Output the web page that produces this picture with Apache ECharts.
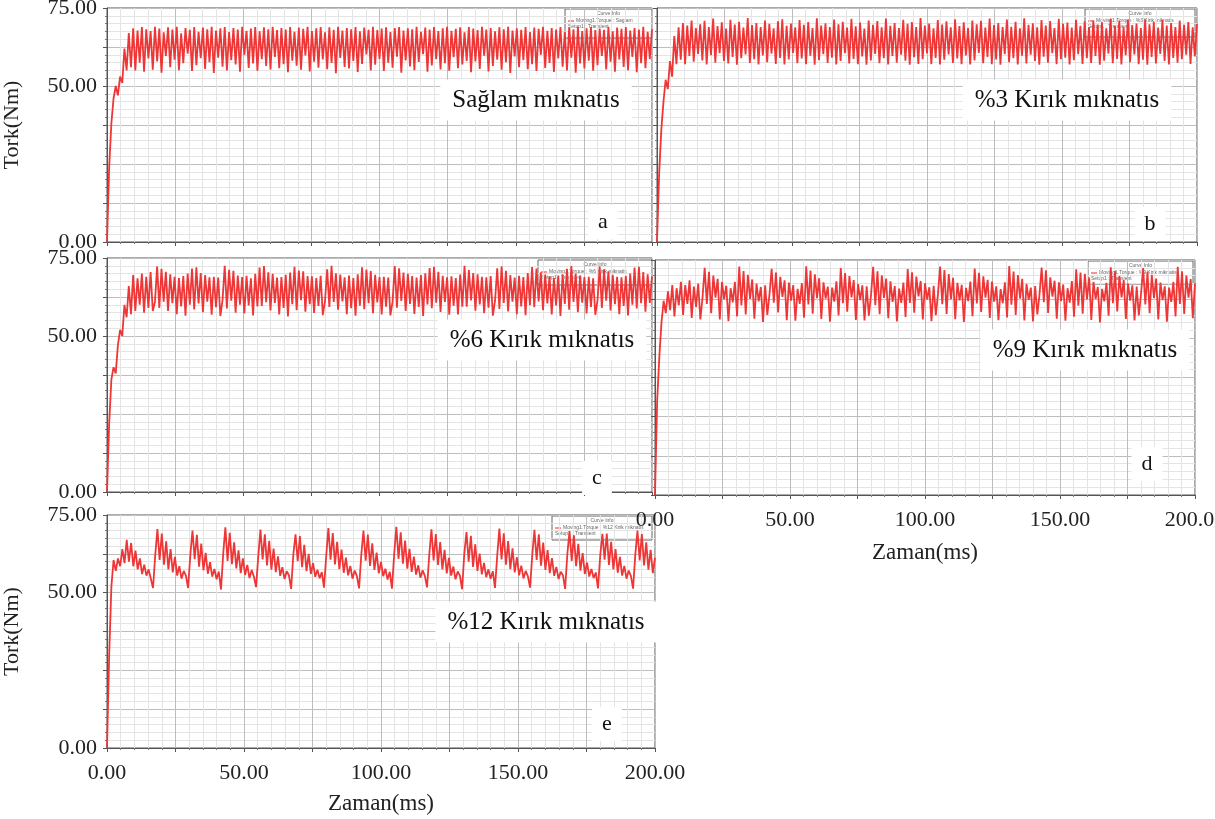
<!DOCTYPE html>
<html><head><meta charset="utf-8">
<script src="https://cdn.jsdelivr.net/npm/echarts@6/dist/echarts.min.js"></script>
<style>html,body{margin:0;padding:0;background:#fff}#c{width:1215px;height:819px}</style>
</head><body><div id="c"></div>
<script>
// Zaman (ms) – shared simulation time steps
const zaman = [
0,0.8,1.6,2.4,3.2,4,4.8,5.6,6.4,7.2,
8,8.8,9.6,10.4,11.2,12,12.8,13.6,14.4,15.2,
16,16.8,17.6,18.4,19.2,20,20.8,21.6,22.4,23.2,
24,24.8,25.6,26.4,27.2,28,28.8,29.6,30.4,31.2,
32,32.8,33.6,34.4,35.2,36,36.8,37.6,38.4,39.2,
40,40.8,41.6,42.4,43.2,44,44.8,45.6,46.4,47.2,
48,48.8,49.6,50.4,51.2,52,52.8,53.6,54.4,55.2,
56,56.8,57.6,58.4,59.2,60,60.8,61.6,62.4,63.2,
64,64.8,65.6,66.4,67.2,68,68.8,69.6,70.4,71.2,
72,72.8,73.6,74.4,75.2,76,76.8,77.6,78.4,79.2,
80,80.8,81.6,82.4,83.2,84,84.8,85.6,86.4,87.2,
88,88.8,89.6,90.4,91.2,92,92.8,93.6,94.4,95.2,
96,96.8,97.6,98.4,99.2,100,100.8,101.6,102.4,103.2,
104,104.8,105.6,106.4,107.2,108,108.8,109.6,110.4,111.2,
112,112.8,113.6,114.4,115.2,116,116.8,117.6,118.4,119.2,
120,120.8,121.6,122.4,123.2,124,124.8,125.6,126.4,127.2,
128,128.8,129.6,130.4,131.2,132,132.8,133.6,134.4,135.2,
136,136.8,137.6,138.4,139.2,140,140.8,141.6,142.4,143.2,
144,144.8,145.6,146.4,147.2,148,148.8,149.6,150.4,151.2,
152,152.8,153.6,154.4,155.2,156,156.8,157.6,158.4,159.2,
160,160.8,161.6,162.4,163.2,164,164.8,165.6,166.4,167.2,
168,168.8,169.6,170.4,171.2,172,172.8,173.6,174.4,175.2,
176,176.8,177.6,178.4,179.2,180,180.8,181.6,182.4,183.2,
184,184.8,185.6,186.4,187.2,188,188.8,189.6,190.4,191.2,
192,192.8,193.6,194.4,195.2,196,196.8,197.6,198.4,199.2,
200];

// (a) Sağlam mıknatıs – Tork (Nm)
const torkSaglam = [
0,24,38,46,50,47,53,51,62,55,
67,56,68.5,55,67.8,57.5,68.9,54.6,68.2,58.8,
67.6,55.2,69.0,57.9,68.4,54.3,67.2,59.6,68.8,56.0,
68.1,58.4,69.0,55.1,66.9,57.3,68.6,60.4,68.0,54.8,
68.9,56.7,67.4,58.9,68.7,55.5,68.2,57.6,69.0,54.2,
67.8,59.1,68.5,56.2,68.9,55.0,67.3,58.3,68.6,56.9,
68.1,54.6,69.0,60.0,67.7,55.8,68.4,57.2,68.9,54.9,
67.5,58.6,68.8,56.4,68.2,55.3,69.0,59.3,67.9,55.7,
68.6,57.0,68.1,54.4,68.9,58.1,67.4,56.5,68.7,55.2,
68.3,59.8,69.0,54.7,67.6,57.8,68.5,55.9,68.9,58.5,
67.2,55.4,68.8,57.4,68.0,54.1,69.0,59.0,67.8,56.1,
68.6,55.6,68.2,58.0,68.9,54.5,67.5,57.1,68.7,60.1,
68.0,55.0,69.0,56.8,67.9,58.7,68.4,54.8,68.8,57.5,
67.3,55.9,68.6,59.4,68.9,54.3,67.8,58.2,68.5,56.3,
68.2,55.1,69.0,57.7,67.4,60.2,68.7,54.6,68.1,56.6,
68.9,58.6,67.6,55.3,68.5,57.3,69.0,54.9,67.7,59.2,
68.3,55.7,68.8,56.9,67.2,58.0,68.9,54.4,68.4,57.9,
67.9,55.5,69.0,59.7,68.1,54.7,68.6,56.4,67.5,58.4,
68.8,55.2,68.2,57.6,69.0,54.2,67.8,59.5,68.5,56.0,
68.0,58.3,68.9,55.4,67.3,57.0,68.7,54.8,68.3,60.0,
69.0,55.8,67.7,57.4,68.6,54.5,68.1,58.8,68.9,56.2,
67.4,55.0,68.8,59.1,68.2,54.3,69.0,57.2,67.6,55.6,
68.5,58.1,68.9,54.9,67.9,56.7,68.4,59.6,68.0,55.3,
69.0,57.8,67.5,54.6,68.7,58.5,68.3,56.1,68.9,55.1,
67.8,59.3,68.6,54.4,68.1,57.3,69.0,55.7,67.4,58.6,
68.2];

// (b) %3 Kırık mıknatıs
const torkKirik3 = [
0,22,36,45,52,49,58,53,66,57,
68.8,58.4,70.2,57.0,69.4,59.6,71.0,57.8,68.6,60.3,
69.8,58.2,70.9,56.9,68.9,59.9,71.6,57.5,69.2,60.5,
70.4,58.0,68.4,57.2,71.2,59.3,69.7,56.8,70.6,58.9,
68.7,60.1,71.8,57.4,69.5,58.6,70.2,56.9,68.9,59.8,
71.0,57.6,69.9,60.4,68.5,57.1,70.7,59.0,71.4,56.9,
69.3,58.5,70.0,60.6,68.8,57.3,71.1,58.8,69.6,57.0,
70.5,59.7,68.6,56.8,71.7,58.3,69.4,60.2,70.1,57.4,
68.9,59.1,71.3,56.9,69.8,58.0,70.6,60.5,68.7,57.2,
71.5,58.7,69.1,57.0,70.3,59.5,68.4,56.8,71.0,58.2,
69.6,60.3,70.8,57.3,68.8,58.9,71.6,56.9,69.3,59.6,
70.2,57.5,68.6,60.0,71.2,58.1,69.9,56.8,70.5,59.2,
68.9,57.1,71.8,58.6,69.4,60.4,70.0,57.0,68.5,59.0,
71.1,56.9,69.7,58.4,70.7,60.1,68.8,57.4,71.4,58.8,
69.2,57.0,70.4,59.8,68.6,56.9,71.0,58.2,69.8,60.6,
70.9,57.3,68.7,59.3,71.6,57.0,69.5,58.5,70.2,56.8,
68.9,60.2,71.3,57.6,69.0,58.9,70.6,56.9,68.5,59.7,
71.7,57.2,69.6,60.0,70.1,58.0,68.8,56.8,71.1,59.4,
69.4,57.5,70.8,60.5,68.6,57.0,71.5,58.6,69.9,59.1,
70.3,56.9,68.7,58.3,71.2,60.2,69.3,57.1,70.7,58.9,
68.9,57.4,71.0,59.6,69.7,56.8,70.4,58.1,68.5,60.4,
71.6,57.3,69.2,58.7,70.9,56.9,68.8,59.9,71.3,57.6,
69.5,60.1,70.0,57.0,68.6,58.4,71.4,56.8,69.8,59.3,
70.6,57.2,68.7,60.3,71.1,58.0,69.4,56.9,70.2,59.0,
68.9,57.5,71.0,58.6,69.6,60.0,70.5,57.1,68.8,59.5,
69.9];

// (c) %6 Kırık mıknatıs
const torkKirik6 = [
0,22,36,40,38,47,52,50,60,56,66,57,69.5,58,68.5,60,70,57.5,69,59,70.5,58,61,
72.3,59.0,71.5,61.0,70.6,58.0,69.8,60.5,69.0,57.0,68.6,59.5,69.2,56.5,70.0,60.0,
71.6,58.5,72.0,60.4,70.2,57.6,69.5,61.0,68.8,56.8,69.0,59.2,68.7,56.4,61.5,
72.5,58.8,71.2,61.3,70.9,57.5,69.4,60.0,68.9,57.2,69.3,59.8,68.5,56.6,69.9,59.5,
71.9,59.6,72.4,60.8,70.4,58.2,69.9,60.6,68.7,56.9,68.9,59.0,69.6,56.3,70.3,60.2,
72.2,58.3,71.0,61.5,70.7,57.8,69.2,60.2,69.1,57.4,68.6,59.6,69.3,56.7,61.2,
71.4,59.3,72.5,60.9,70.1,58.4,69.7,61.1,68.8,57.0,69.4,58.9,68.6,56.5,69.8,59.7,
72.0,58.6,71.3,60.5,70.8,57.3,69.6,60.8,68.9,56.9,69.0,59.4,68.7,56.6,61.0,
72.4,59.1,71.7,61.2,70.3,58.0,69.9,60.3,69.2,57.1,68.7,59.3,69.5,56.4,70.1,60.1,
71.8,58.9,72.2,60.7,70.6,57.7,69.3,60.9,68.8,56.8,69.1,59.7,68.6,56.9,69.7,59.4,
72.5,59.4,71.1,61.4,70.2,58.1,69.8,60.1,69.0,57.3,68.8,59.1,69.2,56.5,61.3,
71.7,58.7,72.3,60.6,70.9,57.9,69.5,61.0,68.7,57.0,69.3,59.5,68.9,56.7,70.2,59.9,
72.1,59.2,71.6,61.1,70.4,58.3,69.7,60.4,69.1,56.9,68.6,59.8,69.4,56.4,69.8,60.3,
71.5,58.4,72.4,60.9,70.0,57.6,69.4,60.7,68.9,57.2,69.0,59.3,68.5,56.8,61.4,
72.3,59.0,71.4,61.3,70.7,58.2,69.6,60.2,69.0,57.0,68.8,59.6,69.3,56.6,70.0,60.0,
71.9,58.8,72.2,60.5,70.5,57.8,69.8,60.6,69.1];

// (d) %9 Kırık mıknatıs
const torkKirik9 = [
0,30,44,55,62,58,65,59,67,57,66,60.5,68,57.5,67,61,68.5,56.5,66.5,60,67.5,56,63,
72.5,61.0,71.2,58.0,70.0,63.0,69.0,56.0,68.0,62.5,66.8,55.5,66.0,61.5,68.0,57.0,
72.9,60.5,71.5,57.6,70.3,62.6,68.8,56.3,67.5,61.8,66.4,55.2,66.9,57.5,64.0,
72.2,61.4,71.0,58.3,69.6,63.2,68.5,55.8,67.8,62.0,67.0,55.6,65.8,61.0,67.6,56.6,
73.0,60.8,71.6,57.9,70.4,62.8,69.2,56.2,67.9,62.7,66.5,55.3,66.2,61.7,68.2,57.3,
72.4,61.2,70.8,58.5,69.9,63.1,68.6,55.9,67.3,62.2,66.9,55.7,66.6,57.2,63.8,
72.8,60.6,71.4,57.7,70.1,62.9,69.1,56.4,68.2,61.6,66.7,55.4,65.9,61.3,67.8,56.8,
72.1,61.3,71.1,58.2,69.7,63.4,68.3,56.0,67.6,62.4,66.3,55.5,66.8,57.4,64.2,
72.9,60.9,71.8,57.8,70.5,62.5,69.3,56.1,67.7,62.1,67.1,55.2,66.1,61.9,68.1,57.1,
72.3,61.1,70.9,58.4,69.8,63.0,68.7,56.5,68.1,61.7,66.6,55.8,65.7,61.2,67.9,56.7,
73.1,60.7,71.3,57.5,70.2,62.7,69.0,55.7,67.4,62.3,66.2,55.4,66.7,57.6,63.9,
72.6,61.5,71.7,58.1,69.5,63.3,68.4,56.3,67.9,61.9,67.2,55.6,66.0,61.4,68.3,56.9,
72.0,60.4,71.0,57.9,70.6,62.4,69.4,55.9,68.0,62.6,66.4,55.1,65.8,61.8,67.7,57.2,
72.7,61.2,71.5,58.6,69.9,63.1,68.6,56.2,67.5,62.0,66.9,55.7,66.5,57.3,64.1,
72.4,60.8,71.2,58.0,70.3,62.8,69.1,56.0,67.8,62.2,66.6,55.3,66.2,61.6,68.0,57.0,
72.8,61.0,71.4,57.8,70.0,63.0,68.9,56.4,67.6];

// (e) %12 Kırık mıknatıs
const torkKirik12 = [
0,30,52,60.5,57,61,58.5,64,59.5,67,60,66,58.5,63.5,57.5,61,56,59,55.5,57.5,54.5,51.5,62,
70.5,60.5,69.0,59.0,66.5,57.5,64.0,56.5,61.5,55.5,58.5,54.5,57.0,55.5,51.5,62.0,
70.0,60.8,68.6,58.4,65.8,57.2,62.8,56.1,59.8,55.2,57.6,54.3,56.8,51.0,62.4,
71.0,60.2,69.3,59.2,66.2,57.8,63.6,56.3,61.0,55.7,58.9,54.7,57.3,55.2,51.8,61.6,
70.3,60.7,68.8,58.8,66.7,57.4,64.2,56.6,61.7,55.4,58.2,54.4,56.9,55.6,51.2,62.2,
68.8,60.1,68.2,58.2,65.4,56.9,62.5,56.0,59.5,55.1,57.4,54.6,56.6,51.6,61.8,
70.8,60.6,69.2,59.1,66.4,57.6,63.9,56.4,61.3,55.6,58.6,54.5,57.1,55.3,51.4,62.1,
70.0,60.3,68.7,58.6,65.9,57.3,62.9,56.2,59.9,55.3,57.7,54.2,56.7,51.3,62.3,
71.2,60.9,69.4,59.3,66.8,57.7,64.1,56.7,61.6,55.8,58.8,54.8,57.2,55.4,51.7,61.9,
70.4,60.4,68.9,58.9,66.3,57.5,63.8,56.2,61.2,55.5,58.4,54.3,56.8,55.5,51.1,62.5,
69.5,60.0,68.3,58.3,65.6,57.0,62.6,55.9,59.6,55.0,57.5,54.5,56.9,51.5,61.7,
70.6,60.7,69.1,59.0,66.6,57.6,64.3,56.5,61.4,55.6,58.7,54.6,57.0,55.3,51.6,62.0,
70.2,60.5,68.8,58.7,66.1,57.3,63.7,56.3,61.1,55.4,58.3,54.4,56.7,55.6,51.2,62.3,
69.8,60.2,68.5,58.5,65.7,57.1,62.7,56.0,59.7,55.2,57.6,54.7,56.5,51.4,61.9,
68.9,60.6,69.0,58.9,66.4,57.5,64.0,56.4,61.5,55.5,58.6,54.5,57.1,55.4,51.3,62.1,
70.0,60.4,68.9,58.8,66.2,57.4,63.8,56.3,61.2];

// Axis tick labels
const yTickLabels = [0, 50, 75];
const xTickLabels = [0, 50, 100, 150, 200];

const seriesList = [
  { harf: 'a', baslik: 'Sağlam mıknatıs', veri: torkSaglam, efsane: 'Moving1.Torque : Saglam' },
  { harf: 'b', baslik: '%3 Kırık mıknatıs', veri: torkKirik3, efsane: 'Moving1.Torque : %3 Kirik miknatis' },
  { harf: 'c', baslik: '%6 Kırık mıknatıs', veri: torkKirik6, efsane: 'Moving1.Torque : %6 Kirik miknatis' },
  { harf: 'd', baslik: '%9 Kırık mıknatıs', veri: torkKirik9, efsane: 'Moving1.Torque : %9 Kirik miknatis' },
  { harf: 'e', baslik: '%12 Kırık mıknatıs', veri: torkKirik12, efsane: 'Moving1.Torque : %12 Kirik miknatis' }
];

// layout (not data)
const layout = [
  { left:107, top:8,   width:545, height:234, yLab:true,  yName:true,  xLab:false, t:[536,100], l:[603,222], box:[565,9,87,29], ng:0 },
  { left:657, top:8,   width:540, height:234, yLab:false, yName:false, xLab:false, t:[1067,100], l:[1150,224], box:[1085,9,110,28], ng:0 },
  { left:107, top:258, width:545, height:234, yLab:true,  yName:false, xLab:false, t:[542,340], l:[597,478], box:[538,260,114,25], ng:0 },
  { left:655, top:260, width:540, height:235, yLab:false, yName:false, xLab:true,  t:[1085,350], l:[1147,464], box:[1088,261,105,23], ng:46 },
  { left:107, top:515, width:548, height:233, yLab:true,  yName:true,  xLab:true,  t:[546,622], l:[607,724], box:[552,516,100,24], ng:44 }
];

const FONT = '"Liberation Serif","Times New Roman",serif';
const grids = [], xAxes = [], yAxes = [], series = [], graphics = [];

layout.forEach((L, i) => {
  grids.push({ left:L.left, top:L.top, width:L.width, height:L.height, show:true,
    backgroundColor:'#fff', borderColor:'#555', borderWidth:1, outerBoundsMode:'none' });
  xAxes.push({
    type:'value', gridIndex:i, min:0, max:200, interval:25, position:'bottom',
    axisLine:{ show:true, onZero:false, lineStyle:{ color:'#555' } },
    axisTick:{ show:true, length:4, lineStyle:{ color:'#555' } },
    minorTick:{ show:true, splitNumber:5, length:2, lineStyle:{ color:'#777' } },
    splitLine:{ show:true, lineStyle:{ color:'#bdbdbd', width:1 } },
    minorSplitLine:{ show:true, lineStyle:{ color:'#e4e4e4', width:1 } },
    axisLabel:{ show:L.xLab, margin:14, fontFamily:FONT, fontSize:22, color:'#222',
      formatter: v => xTickLabels.indexOf(v) >= 0 ? v.toFixed(2) : '' },
    name: L.xLab ? 'Zaman(ms)' : '', nameLocation:'middle', nameGap:L.ng,
    nameTextStyle:{ fontFamily:FONT, fontSize:23, color:'#222' }
  });
  yAxes.push({
    type:'value', gridIndex:i, min:0, max:75, interval:12.5, position:'left',
    axisLine:{ show:true, onZero:false, lineStyle:{ color:'#555' } },
    axisTick:{ show:true, length:4, lineStyle:{ color:'#555' } },
    minorTick:{ show:true, splitNumber:5, length:2, lineStyle:{ color:'#777' } },
    splitLine:{ show:true, lineStyle:{ color:'#bdbdbd', width:1 } },
    minorSplitLine:{ show:true, lineStyle:{ color:'#e4e4e4', width:1 } },
    axisLabel:{ show:false },
    name: L.yName ? 'Tork(Nm)' : '', nameLocation:'middle', nameGap:84, nameRotate:90,
    nameTextStyle:{ fontFamily:FONT, fontSize:22, color:'#222' }
  });
  if (L.yLab) {
    yAxes.push({
      type:'value', gridIndex:i, min:0, max:75, interval:25, position:'left', offset:0,
      axisLine:{ show:false, onZero:false }, axisTick:{ show:false }, splitLine:{ show:false },
      axisLabel:{ show:true, margin:10, fontFamily:FONT, fontSize:22, color:'#222',
        formatter: v => yTickLabels.indexOf(v) >= 0 ? v.toFixed(2) : '' }
    });
  }
});

seriesList.forEach((s, i) => {
  const yIdx = yAxes.findIndex(a => a.gridIndex === i);
  const n = Math.min(zaman.length, s.veri.length);
  const pts = [];
  for (let k = 0; k < n; k++) pts.push([zaman[k], s.veri[k]]);
  series.push({
    type:'line', name:s.baslik, xAxisIndex:i, yAxisIndex:yIdx, data:pts,
    showSymbol:false, symbol:'none', animation:false, sampling:null,
    lineStyle:{ color:'#ee3636', width:1.8 }, z:3
  });
  const L = layout[i];
  const b = L.box;
  graphics.push({ type:'group', z:50, children:[
    { type:'rect', shape:{ x:b[0], y:b[1], width:b[2], height:b[3] }, style:{ fill:'#fff', stroke:'#666', lineWidth:1 } },
    { type:'text', style:{ x:b[0]+b[2]/2, y:b[1]+5, text:'Curve Info', fontSize:5, fill:'#666', align:'center', verticalAlign:'middle', fontFamily:'Arial' } },
    { type:'line', shape:{ x1:b[0]+3, y1:b[1]+12, x2:b[0]+9, y2:b[1]+12 }, style:{ stroke:'#ee2b2b', lineWidth:1 } },
    { type:'text', style:{ x:b[0]+11, y:b[1]+12, text:s.efsane, fontSize:5, fill:'#666', align:'left', verticalAlign:'middle', fontFamily:'Arial' } },
    { type:'text', style:{ x:b[0]+3, y:b[1]+18, text:'Setup1 : Transient', fontSize:5, fill:'#666', align:'left', verticalAlign:'middle', fontFamily:'Arial' } }
  ]});
  graphics.push({ type:'text', z:50, style:{ x:L.t[0], y:L.t[1], text:s.baslik, font:'25px ' + FONT, fill:'#111',
    align:'center', verticalAlign:'middle', backgroundColor:'#fff', padding:[8,12] } });
  graphics.push({ type:'text', z:50, style:{ x:L.l[0], y:L.l[1], text:s.harf, font:'22px ' + FONT, fill:'#111',
    align:'center', verticalAlign:'middle', backgroundColor:'#fff', padding:[6,10] } });
});

const chart = echarts.init(document.getElementById('c'), null, { renderer:'canvas' });
chart.setOption({
  animation:false, backgroundColor:'#fff',
  grid:grids, xAxis:xAxes, yAxis:yAxes, series:series, graphic:graphics
});
</script>
</body></html>
